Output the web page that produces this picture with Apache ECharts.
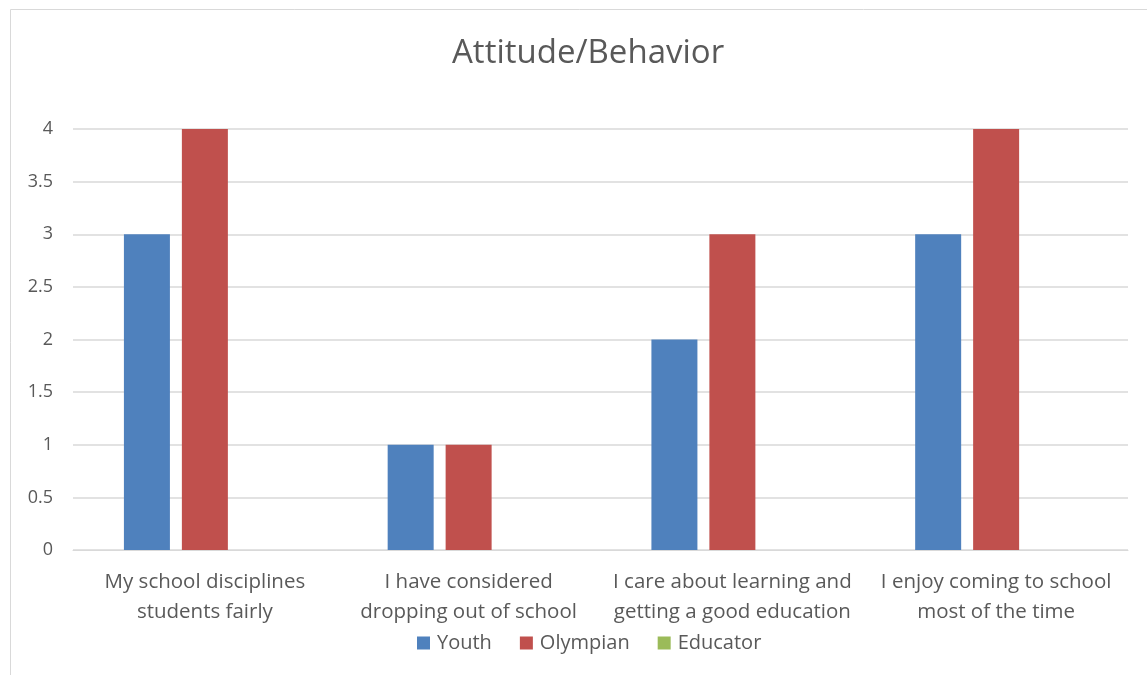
<!DOCTYPE html>
<html>
<head>
<meta charset="utf-8">
<script src="https://cdn.jsdelivr.net/npm/echarts@6/dist/echarts.min.js"></script>
<style>
  html, body { margin: 0; padding: 0; background: #fff; }
  #chart { width: 1147px; height: 675px; }
</style>
</head>
<body>
<div id="chart"></div>
<script>
const categories = [
  'My school disciplines\nstudents fairly',
  'I have considered\ndropping out of school',
  'I care about learning and\ngetting a good education',
  'I enjoy coming to school\nmost of the time'
]
const youth = [3, 1, 2, 3]
const olympian = [4, 1, 3, 4]
const educator = [0, 0, 0, 0]

const font = '"Open Sans", "Noto Sans", sans-serif'
const textColor = '#595959'

const chart = echarts.init(document.getElementById('chart'))
chart.setOption({
  animation: false,
  textStyle: { fontFamily: font },
  graphic: [{
    type: 'rect',
    shape: { x: 10.5, y: 9.5, width: 1160, height: 700 },
    style: { fill: 'none', stroke: '#d9d9d9', lineWidth: 1 },
    silent: true
  }],
  title: {
    text: 'Attitude/Behavior',
    left: 447,
    top: 32,
    textStyle: { fontSize: 33, fontWeight: 'normal', color: textColor, fontFamily: font }
  },
  legend: {
    bottom: 17,
    left: 412,
    itemWidth: 13,
    itemHeight: 13,
    itemGap: 28,
    icon: 'rect',
    textStyle: { fontSize: 20, color: textColor, padding: [0, 0, 0, 2] },
    data: ['Youth', 'Olympian', 'Educator']
  },
  grid: { left: 73, right: 19, top: 129, bottom: 125, containLabel: false },
  xAxis: {
    type: 'category',
    data: categories,
    axisTick: { show: false },
    axisLine: { lineStyle: { color: '#d9d9d9', width: 1 } },
    axisLabel: { interval: 0, fontSize: 20.5, color: textColor, lineHeight: 30, margin: 17 }
  },
  yAxis: {
    type: 'value',
    min: 0,
    max: 4,
    interval: 0.5,
    axisLine: { show: false },
    axisTick: { show: false },
    axisLabel: { fontSize: 18, color: textColor, margin: 20 },
    splitLine: { lineStyle: { color: '#d9d9d9', width: 1.5 } }
  },
  series: [
    { name: 'Youth', type: 'bar', data: youth, barWidth: 46, barGap: '26%', itemStyle: { color: '#4f81bd' } },
    { name: 'Olympian', type: 'bar', data: olympian, barWidth: 46, barGap: '26%', itemStyle: { color: '#c0504d' } },
    { name: 'Educator', type: 'bar', data: educator, barWidth: 46, barGap: '26%', itemStyle: { color: '#9bbb59' } }
  ]
})
</script>
</body>
</html>
